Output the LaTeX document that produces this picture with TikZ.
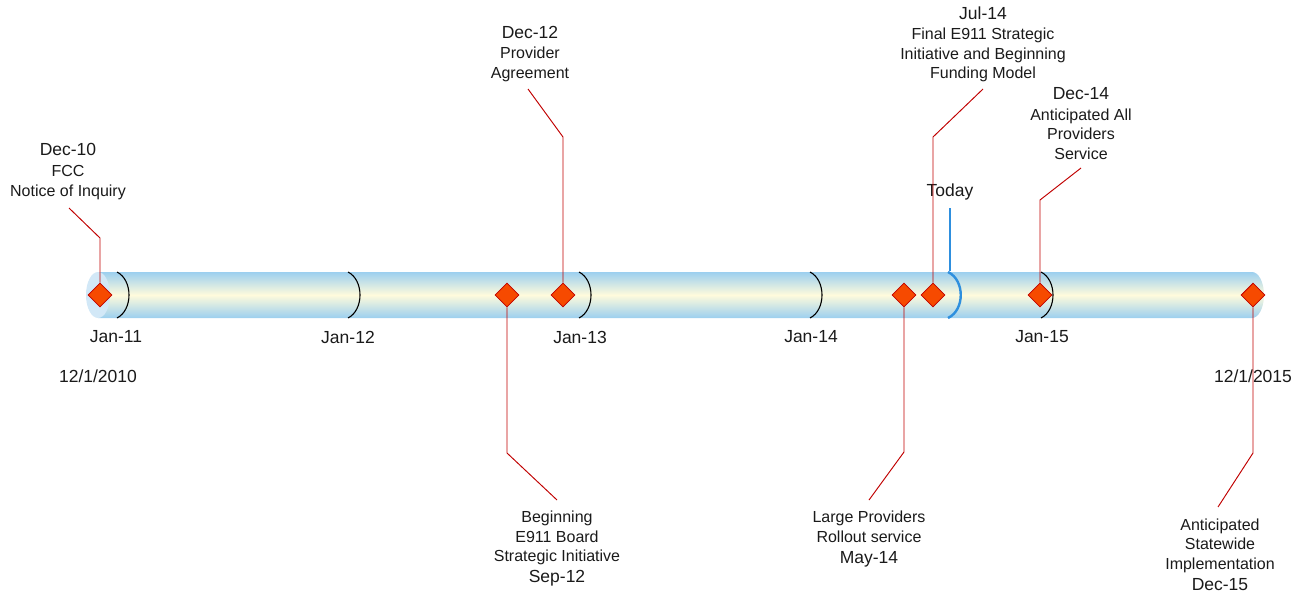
\documentclass[tikz,border=0pt]{standalone}
\usepackage{fontspec}
\setmainfont{Liberation Sans}
\usetikzlibrary{shapes.geometric}
\definecolor{tubeblue}{HTML}{9CCFEF}
\definecolor{tubemid}{HTML}{FFFBDC}
\definecolor{capblue}{HTML}{D2E8F7}
\definecolor{msfill}{HTML}{F64A00}
\definecolor{msedge}{HTML}{C00000}
\definecolor{todayblue}{HTML}{2E8FDE}
\definecolor{txt}{HTML}{1A1A1A}
\newcommand{\bigf}{\fontsize{17.5}{21}\selectfont}
\begin{document}
\begin{tikzpicture}[x=1pt,y=-1pt,
  milestone/.style={diamond, fill=msfill, draw=msedge, line width=0.8pt, minimum width=24pt, minimum height=24pt, inner sep=0pt},
  conn/.style={draw=msedge, line width=0.95pt},
  tick/.style={draw=black, line width=1.1pt},
  todaytick/.style={draw=todayblue, line width=2.4pt},
  small/.style={font=\fontsize{16}{19.5}\selectfont, align=center, text=txt, inner sep=0pt},
  big/.style={font=\bigf, text=txt, inner sep=0pt}]
\useasboundingbox (0,0) rectangle (1304,592);
% tube
\shade[top color=tubeblue, bottom color=tubeblue, middle color=tubemid]
  (98,272) -- (1252,272) arc[start angle=90, end angle=-90, x radius=12pt, y radius=23pt] -- (98,318) -- cycle;
\fill[capblue] (98,295) ellipse[x radius=12pt, y radius=23pt];
% year ticks
\draw[tick] (117,272) .. controls (133,280) and (133,310) .. (117,318);
\draw[tick] (348,272) .. controls (364,280) and (364,310) .. (348,318);
\draw[tick] (579,272) .. controls (595,280) and (595,310) .. (579,318);
\draw[tick] (810,272) .. controls (826,280) and (826,310) .. (810,318);
\draw[tick] (1041,272) .. controls (1057,280) and (1057,310) .. (1041,318);
% today
\node[big] (today) at (950,192) {Today};
\coordinate (todaytop) at (950,208);
\coordinate (todaybot) at (950,271);
\draw[draw=todayblue, line width=1.2pt] (todaytop) -- (todaybot);
\draw[todaytick] (948,272) .. controls (965,280) and (965,310) .. (948,318);
% axis labels
\node[big] (j11) at (116,337) {Jan-11};
\node[big] (j12) at (348,337) {Jan-12};
\node[big] (j13) at (580,337) {Jan-13};
\node[big] (j14) at (811,337) {Jan-14};
\node[big] (j15) at (1042,337) {Jan-15};
\node[big] (start) at (98,376) {12/1/2010};
\node[big] (finish) at (1253,376) {12/1/2015};
% milestones
\node[milestone] (m0) at (100,295) {};
\node[milestone] (m3) at (507,295) {};
\node[milestone] (m2) at (563,295) {};
\node[milestone] (m4) at (904,295) {};
\node[milestone] (m5) at (933,295) {};
\node[milestone] (m6) at (1040,295) {};
\node[milestone] (m7) at (1253,295) {};
% texts
\node[small] (t0) at (68,171.5) {{\bigf Dec-10}\\[1.5pt]FCC\\Notice of Inquiry};
\node[small] (t2) at (530,54) {{\bigf Dec-12}\\[1pt]Provider\\Agreement};
\node[small] (t5) at (983,44.5) {{\bigf Jul-14}\\[1pt]Final E911 Strategic\\Initiative and Beginning\\Funding Model};
\node[small] (t6) at (1081,123.5) {{\bigf Dec-14}\\[1pt]Anticipated All\\Providers\\Service};
\node[small] (t3) at (557,548.5) {Beginning\\E911 Board\\Strategic Initiative\\[1pt]{\bigf Sep-12}};
\node[small] (t4) at (869,539) {Large Providers\\Rollout service\\[1.5pt]{\bigf May-14}};
\node[small] (t7) at (1220,554.5) {Anticipated\\Statewide\\Implementation\\[1.5pt]{\bigf Dec-15}};
% connectors
\coordinate (b0) at (100,238); \coordinate (e0) at (69,208);
\coordinate (b2) at (563,137); \coordinate (e2) at (528,89);
\coordinate (b3) at (507,453); \coordinate (e3) at (557,500);
\coordinate (b4) at (904,452); \coordinate (e4) at (869,500);
\coordinate (b5) at (933,137); \coordinate (e5) at (983,89);
\coordinate (b6) at (1040,200); \coordinate (e6) at (1081,168);
\coordinate (b7) at (1253,453); \coordinate (e7) at (1218,507);
\draw[conn] (m0.north) -- (b0) -- (e0);
\draw[conn] (m2.north) -- (b2) -- (e2);
\draw[conn] (m3.south) -- (b3) -- (e3);
\draw[conn] (m4.south) -- (b4) -- (e4);
\draw[conn] (m5.north) -- (b5) -- (e5);
\draw[conn] (m6.north) -- (b6) -- (e6);
\draw[conn] (m7.south) -- (b7) -- (e7);
\end{tikzpicture}
\end{document}
